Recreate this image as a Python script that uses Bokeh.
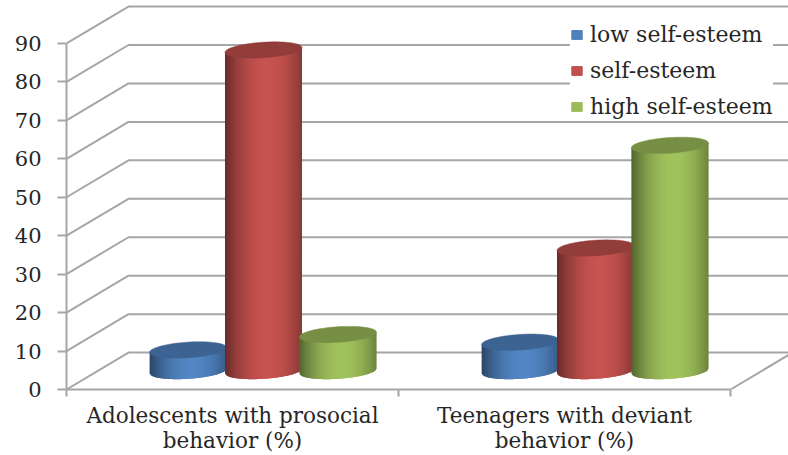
import numpy as np
from bokeh.plotting import figure
from bokeh.embed import file_html
from bokeh.resources import INLINE
from bokeh.models import Range1d, FixedTicker, LinearAxis, Legend, LegendItem

categories = ["Adolescents with prosocial\nbehavior (%)", "Teenagers with deviant\nbehavior (%)"]
series_names = ["low self-esteem", "self-esteem", "high self-esteem"]
low_values = [5.5, 7.5]
mid_values = [83.5, 32.0]
high_values = [9.5, 58.7]
y_ticks = [0, 10, 20, 30, 40, 50, 60, 70, 80, 90]
colors = ["#4f81bd", "#c0504d", "#9bbb59"]

W, H = 788, 455
LEFT, BOTTOM_PX = 66, 390
PX_X = 332.0   # px per category
PX_Y = 3.855   # px per value unit
DX = 62 / PX_X
DY = 37 / PX_Y
FONT = "DejaVu Serif"
GRID = "#a6a6a6"
TEXT = "#262626"

p = figure(width=W, height=H, output_backend="svg", toolbar_location=None,
           x_range=Range1d(0, (W - LEFT) / PX_X), y_range=Range1d(0, BOTTOM_PX / PX_Y),
           x_axis_type=None, y_axis_type=None,
           min_border_left=LEFT, min_border_right=0, min_border_top=0, min_border_bottom=H - BOTTOM_PX)
p.outline_line_color = None
p.grid.visible = False
p.styles = {"position": "absolute", "left": "0", "top": "0"}


def shade(hexc, f):
    r, g, b = [int(hexc[i:i + 2], 16) for i in (1, 3, 5)]
    return "#%02x%02x%02x" % (min(255, int(r * f)), min(255, int(g * f)), min(255, int(b * f)))


# walls
xs, ys = [], []
for v in y_ticks:
    xs.append([0, DX, 2 + DX]); ys.append([v, v + DY, v + DY])
xs.append([2, 2 + DX]); ys.append([0, DY])
p.multi_line(xs, ys, line_color=GRID, line_width=2)

# axes
yax = LinearAxis(ticker=FixedTicker(ticks=y_ticks), bounds=(0, 90))
yax.axis_line_color = GRID; yax.axis_line_width = 2
yax.major_tick_line_color = GRID; yax.major_tick_line_width = 2
yax.major_tick_in = 0; yax.major_tick_out = 9
yax.minor_tick_line_color = None
yax.major_label_standoff = 16
yax.major_label_text_font = FONT; yax.major_label_text_font_size = "21px"
yax.major_label_text_color = TEXT
p.add_layout(yax, "left")

xax = LinearAxis(ticker=FixedTicker(ticks=[0.5, 1.5], minor_ticks=[0, 1, 2]), bounds=(0, 2))
xax.axis_line_color = GRID; xax.axis_line_width = 2
xax.major_tick_line_color = None
xax.minor_tick_line_color = GRID; xax.minor_tick_line_width = 2
xax.minor_tick_in = 0; xax.minor_tick_out = 7
xax.major_label_overrides = {0.5: categories[0], 1.5: categories[1]}
xax.major_label_standoff = 6
xax.major_label_text_font = FONT; xax.major_label_text_font_size = "21.5px"
xax.major_label_text_color = TEXT
xax.major_label_text_line_height = 1.0
p.add_layout(xax, "below")

# cylinders
BAR_W = 0.232
OFFS = [-0.227, 0.0, 0.224]
ELL = 7.8 / PX_Y
TILT = 2.4 / PX_Y
N = 40
items = []
for si, vals in enumerate([low_values, mid_values, high_values]):
    c = colors[si]
    base = DY / 2
    cxs = [gi + 0.5 + DX / 2 + OFFS[si] for gi in range(2)]
    r = p.quad(left=[x - BAR_W * 0.3 for x in cxs], right=[x + BAR_W * 0.3 for x in cxs],
               bottom=[base, base], top=[base + v for v in vals], fill_color=c, line_color=c)
    items.append(LegendItem(label=series_names[si], renderers=[r]))
    for gi in range(2):
        cx = cxs[gi]
        top = base + vals[gi]
        ts = np.linspace(-1, 1, N + 1)
        sx, sy, sc = [], [], []
        for k in range(N):
            t0, t1 = ts[k], ts[min(k + 2, N)]
            tm = (ts[k] + ts[k + 1]) / 2
            u = abs(tm - 0.1) / 1.1
            f = 1.04 - 0.50 * u ** 2.0
            tt = np.linspace(t0, t1, 4)
            xx = cx + tt * BAR_W / 2
            low = base - ELL * np.sqrt(np.clip(1 - tt ** 2, 0, 1)) + TILT * tt
            up = top + TILT * tt
            sx.append(list(xx) + list(xx[::-1]))
            sy.append(list(low) + list(up[::-1]))
            sc.append(shade(c, f))
        p.patches(sx, sy, fill_color=sc, line_color=None)
        th = np.linspace(0, 2 * np.pi, 80)
        ex = cx + np.cos(th) * BAR_W / 2
        ey = top + ELL * np.sin(th) + TILT * np.cos(th)
        p.patch(ex, ey, fill_color=shade(c, 0.77), line_color=shade(c, 0.77), line_width=0.5)

# legend
legend = Legend(items=items, location=(570 - LEFT, BOTTOM_PX - 119.5), orientation="vertical",
                background_fill_color="white", background_fill_alpha=1, border_line_color=None,
                glyph_width=13, glyph_height=11, label_text_font=FONT, label_text_font_size="22px",
                label_text_color=TEXT, padding=3, margin=0, spacing=11, label_standoff=7)
p.add_layout(legend, "center")

open("out.html", "w").write(file_html(p, INLINE))
